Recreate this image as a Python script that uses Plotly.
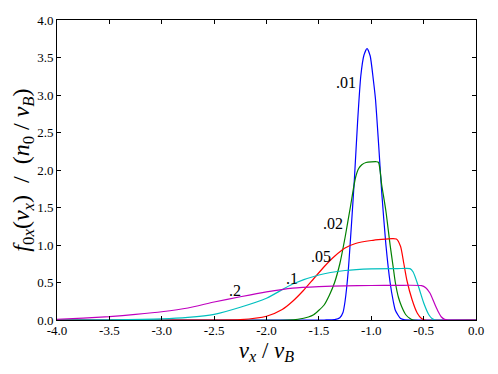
import plotly.graph_objects as go

# curve samples (x = v_x/v_B, y = f_0x)
x_01 = [-4.0, -1.45, -1.35, -1.3, -1.27, -1.25, -1.22, -1.19, -1.16, -1.13, -1.1, -1.07, -1.04,
        -1.01, -0.98, -0.96, -0.93, -0.9, -0.86, -0.82, -0.79, -0.77, -0.72, -0.68, -0.62, 0.0]
y_01 = [0.0, 0.0, 0.005, 0.03, 0.1, 0.25, 0.65, 1.25, 1.9, 2.65, 3.25, 3.53, 3.62,
        3.52, 3.2, 2.95, 2.35, 1.7, 1.0, 0.5, 0.25, 0.13, 0.02, 0.003, 0.0, 0.0]

x_02 = [-4.0, -1.8, -1.7, -1.6, -1.55, -1.5, -1.45, -1.4, -1.35, -1.3, -1.25, -1.2, -1.15, -1.12,
        -1.09, -1.05, -0.95, -0.93, -0.9, -0.86, -0.82, -0.79, -0.77, -0.74, -0.71, -0.67, -0.63,
        -0.6, 0.0]
y_02 = [0.0, 0.0, 0.01, 0.04, 0.07, 0.13, 0.2, 0.33, 0.5, 0.75, 1.1, 1.5, 1.9, 2.02,
        2.07, 2.1, 2.11, 2.1, 1.8, 1.45, 1.0, 0.7, 0.5, 0.3, 0.18, 0.07, 0.02,
        0.0, 0.0]

x_05 = [-4.0, -2.5, -2.25, -2.0, -1.85, -1.75, -1.65, -1.55, -1.45, -1.35, -1.25, -1.15, -1.0,
        -0.9, -0.8, -0.76, -0.72, -0.69, -0.66, -0.61, -0.56, -0.52, -0.49, 0.0]
y_05 = [0.0, 0.0, 0.005, 0.05, 0.14, 0.25, 0.39, 0.55, 0.71, 0.85, 0.96, 1.02, 1.06,
        1.075, 1.085, 1.08, 0.98, 0.76, 0.53, 0.27, 0.09, 0.02, 0.0, 0.0]

x_1 = [-4.0, -3.5, -3.0, -2.75, -2.5, -2.25, -2.0, -1.75, -1.5, -1.25, -1.0, -0.75, -0.63,
       -0.6, -0.55, -0.5, -0.45, -0.42, -0.39, 0.0]
y_1 = [0.0, 0.003, 0.015, 0.035, 0.075, 0.17, 0.29, 0.48, 0.6, 0.66, 0.683, 0.685, 0.685,
       0.64, 0.45, 0.23, 0.07, 0.02, 0.0, 0.0]

x_2 = [-4.0, -3.75, -3.5, -3.25, -3.0, -2.75, -2.5, -2.25, -2.0, -1.75, -1.5, -1.25, -1.0,
       -0.75, -0.52, -0.48, -0.44, -0.39, -0.36, -0.33, -0.3, -0.27, 0.0]
y_2 = [0.01, 0.025, 0.045, 0.075, 0.11, 0.16, 0.24, 0.31, 0.375, 0.425, 0.445, 0.455, 0.46,
       0.462, 0.458, 0.43, 0.36, 0.2, 0.11, 0.04, 0.008, 0.0, 0.0]

curve_labels = [".01", ".02", ".05", ".1", ".2"]
label_x = [-1.24, -1.367, -1.479, -1.754, -2.305]
label_y = [3.17, 1.29, 0.845, 0.556, 0.39]

x_ticks = [-4.0, -3.5, -3.0, -2.5, -2.0, -1.5, -1.0, -0.5, 0.0]
y_ticks = [0.0, 0.5, 1.0, 1.5, 2.0, 2.5, 3.0, 3.5, 4.0]

FONT = "Liberation Serif"

fig = go.Figure()
series = [(x_01, y_01, "#0000ff"), (x_02, y_02, "#008000"), (x_05, y_05, "#ff0000"),
          (x_1, y_1, "#00bfbf"), (x_2, y_2, "#bf00bf")]
for xs, ys, col in series:
    fig.add_trace(go.Scatter(x=xs, y=ys, mode="lines", line=dict(color=col, width=1.2, shape="spline", smoothing=0.6),
                             showlegend=False, hoverinfo="skip"))

for txt, lx, ly in zip(curve_labels, label_x, label_y):
    fig.add_annotation(x=lx, y=ly, text=txt, showarrow=False,
                       font=dict(family=FONT, size=16, color="black"))

axis_common = dict(showgrid=False, zeroline=False, showline=True, linecolor="black", linewidth=1,
                   mirror="ticks", ticks="inside", ticklen=4, tickcolor="black", automargin=False,
                   tickfont=dict(family=FONT, size=13, color="black"))

fig.update_xaxes(range=[-4, 0], tickvals=x_ticks, ticktext=["%.1f" % v for v in x_ticks],
                 ticklabelstandoff=-2,
                 title=dict(text="<i>v</i><sub><i>x</i></sub> / <i>v</i><sub><i>B</i></sub>",
                            font=dict(family=FONT, size=23, color="black"), standoff=2),
                 **axis_common)
fig.update_yaxes(range=[0, 4], tickvals=y_ticks, ticktext=["%.1f" % v for v in y_ticks],
                 ticklabelstandoff=0,
                 title=dict(text="<i>f</i><sub>0<i>x</i></sub>(<i>v</i><sub><i>x</i></sub>)  /  (<i>n</i><sub>0</sub> / <i>v</i><sub><i>B</i></sub>)",
                            font=dict(family=FONT, size=24, color="black"), standoff=4),
                 **axis_common)

# page body has an 8px margin, so the plot box is offset to land where the reference has it
fig.update_layout(width=498, height=374, margin=dict(l=49, r=30, t=12, b=62),
                  plot_bgcolor="white", paper_bgcolor="white")

fig.write_html("out.html")
